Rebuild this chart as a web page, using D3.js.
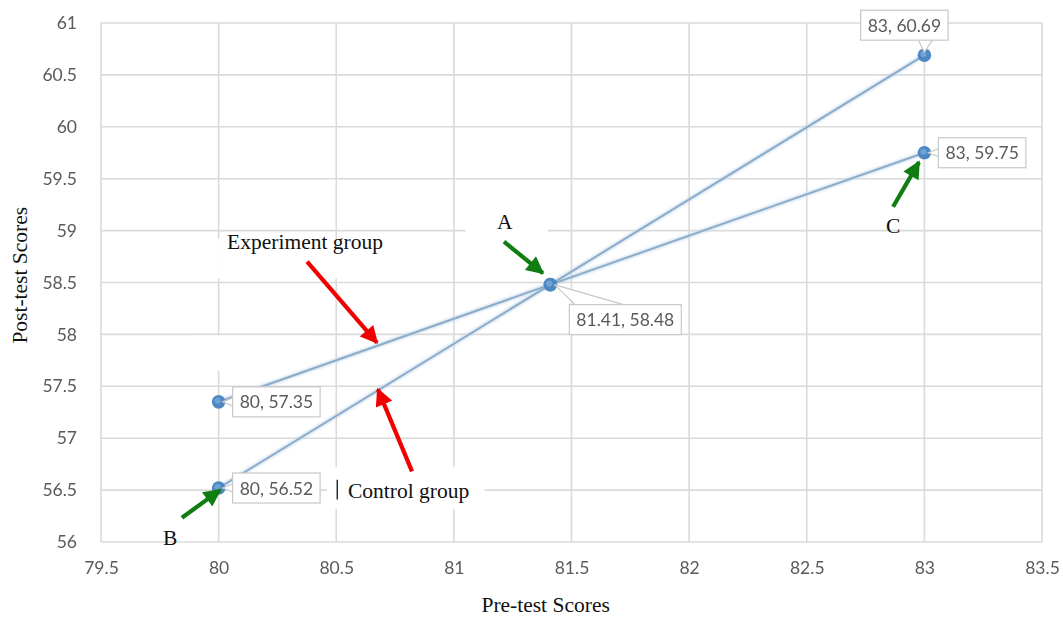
<!DOCTYPE html>
<html>
<head>
<meta charset="utf-8">
<script src="https://cdn.jsdelivr.net/npm/d3@7"></script>
<style>
  body { margin: 0; background: #fff; }
  svg { display: block; }
</style>
</head>
<body>
<svg id="chart" width="1063" height="617"></svg>
<script>
const xTicks = [79.5, 80, 80.5, 81, 81.5, 82, 82.5, 83, 83.5];
const yTicks = [56, 56.5, 57, 57.5, 58, 58.5, 59, 59.5, 60, 60.5, 61];
const preScores = [80, 81.41, 83];
const experimentScores = [57.35, 58.48, 59.75];
const controlScores = [56.52, 58.48, 60.69];
const seriesNames = ['Experiment group', 'Control group'];

const width = 1063, height = 617;
const margin = {top: 23, right: 21, bottom: 75, left: 101};

const svg = d3.select('#chart');
const x = d3.scaleLinear().domain([79.5, 83.5]).range([margin.left, width - margin.right]);
const y = d3.scaleLinear().domain([56, 61]).range([height - margin.bottom, margin.top]);

const defs = svg.append('defs');
defs.append('filter').attr('id', 'soft')
  .append('feGaussianBlur').attr('stdDeviation', 0.55);
defs.append('filter').attr('id', 'glow')
  .attr('x', '-50%').attr('y', '-50%').attr('width', '200%').attr('height', '200%')
  .append('feGaussianBlur').attr('stdDeviation', 1.2);

// arrow heads
[['red', '#f00000'], ['green', '#0f7d12']].forEach(([id, c]) => {
  defs.append('marker').attr('id', 'head-' + id)
    .attr('viewBox', '0 0 10 10').attr('refX', 9).attr('refY', 5)
    .attr('markerWidth', 4.6).attr('markerHeight', 4.2)
    .attr('markerUnits', 'strokeWidth').attr('orient', 'auto')
    .append('path').attr('d', 'M0,0 L10,5 L0,10 Z').attr('fill', c);
});

// grid
const grid = svg.append('g');
grid.selectAll('.gx').data(xTicks).enter().append('line')
  .attr('x1', d => x(d)).attr('x2', d => x(d))
  .attr('y1', y(61)).attr('y2', y(56))
  .attr('stroke', '#dadada').attr('stroke-width', 1.6);
grid.selectAll('.gy').data(yTicks).enter().append('line')
  .attr('x1', x(79.5)).attr('x2', x(83.5))
  .attr('y1', d => y(d)).attr('y2', d => y(d))
  .attr('stroke', '#dadada').attr('stroke-width', 1.6);

// axes (labels only)
const tickFont = 'Lato, "Open Sans", sans-serif';
const serif = '"Liberation Serif", serif';
const yAxis = svg.append('g').attr('transform', `translate(${x(79.5) - 21},0)`)
  .call(d3.axisLeft(y).tickValues(yTicks).tickSize(0).tickFormat(d3.format('')));
const xAxis = svg.append('g').attr('transform', `translate(0,${y(56) + 17})`)
  .call(d3.axisBottom(x).tickValues(xTicks).tickSize(0).tickFormat(d3.format('')));
[xAxis, yAxis].forEach(a => {
  a.select('.domain').remove();
  a.selectAll('text').attr('fill', '#5a5a5a').attr('font-size', 17.5)
    .attr('font-family', tickFont).attr('filter', 'url(#soft)');
});

// axis titles
svg.append('text').attr('x', x(81.39)).attr('y', 612)
  .attr('text-anchor', 'middle').attr('font-family', serif)
  .attr('font-size', 21.5).attr('fill', '#111').text('Pre-test Scores');
svg.append('text').attr('transform', `translate(27,${y(58.57)}) rotate(-90)`)
  .attr('text-anchor', 'middle').attr('font-family', serif)
  .attr('font-size', 21.5).attr('fill', '#111').text('Post-test Scores');

// white patches behind the pasted annotations
const patches = [
  [79.995, 58.92, 80.76, 58.54],
  [81.05, 59.10, 81.40, 58.75],
  [82.735, 58.97, 82.905, 58.60],
  [80.46, 56.72, 81.13, 56.32],
  [79.88, 57.99, 80.41, 57.65]
];
svg.append('g').selectAll('rect').data(patches).enter().append('rect')
  .attr('x', d => x(d[0])).attr('y', d => y(d[1]))
  .attr('width', d => x(d[2]) - x(d[0])).attr('height', d => y(d[3]) - y(d[1]))
  .attr('fill', '#fff');

// series
const series = [experimentScores, controlScores].map((vals, i) => ({
  name: seriesNames[i],
  points: preScores.map((p, j) => ({x: p, y: vals[j]}))
}));
const line = d3.line().x(d => x(d.x)).y(d => y(d.y));
const sg = svg.append('g');
sg.selectAll('.halo').data(series).enter().append('path')
  .attr('d', d => line(d.points)).attr('fill', 'none')
  .attr('stroke', '#c6d8ea').attr('stroke-width', 4.5).attr('opacity', 0.7)
  .attr('filter', 'url(#glow)');
sg.selectAll('.ln').data(series).enter().append('path')
  .attr('d', d => line(d.points)).attr('fill', 'none')
  .attr('stroke', '#8caccb').attr('stroke-width', 2);

// data label callouts
const labels = [
  {x: 83, y: 60.69, dx: -20, dy: -30, pos: 'above'},
  {x: 83, y: 59.75, pos: 'right'},
  {x: 81.41, y: 58.48, dx: 75, dy: 35, pos: 'below'},
  {x: 80, y: 57.35, pos: 'right'},
  {x: 80, y: 56.52, pos: 'right'}
];
const lg = svg.append('g');
labels.forEach(l => {
  const px = x(l.x), py = y(l.y);
  const txt = `${l.x}, ${l.y}`;
  const t = lg.append('text').attr('font-family', tickFont).attr('font-size', 17.5)
    .attr('fill', '#5a5a5a').attr('text-anchor', 'middle').text(txt);
  const w = t.node().getComputedTextLength() + 14, h = 30;
  let cx, cy, pointer;
  if (l.pos === 'above') {
    cx = px + l.dx; cy = py + l.dy;
    pointer = `M${cx + 14},${cy + h / 2} L${px},${py - 3} L${cx + 28},${cy + h / 2}`;
  } else if (l.pos === 'right') {
    cx = px + 14 + w / 2; cy = py;
    pointer = `M${cx - w / 2},${cy - 4} L${px + 4},${py} L${cx - w / 2},${cy + 4}`;
  } else {
    cx = px + l.dx; cy = py + l.dy;
    pointer = `M${cx - w / 2 + 6},${cy - h / 2} L${px + 4},${py} L${cx - w / 2 + 54},${cy - h / 2}`;
  }
  lg.insert('path', 'text').attr('d', pointer).attr('fill', '#fff')
    .attr('stroke', '#c8c8c8').attr('stroke-width', 1.2);
  lg.insert('rect', 'text').attr('x', cx - w / 2).attr('y', cy - h / 2)
    .attr('width', w).attr('height', h).attr('fill', '#fff')
    .attr('stroke', '#c8c8c8').attr('stroke-width', 1.2);
  t.attr('x', cx).attr('y', cy + 6.5).attr('filter', 'url(#soft)');
});

// markers
const allPts = series.flatMap(s => s.points);
sg.selectAll('.mk').data(allPts).enter().append('circle')
  .attr('cx', d => x(d.x)).attr('cy', d => y(d.y)).attr('r', 6.8)
  .attr('fill', '#4d88c4').attr('filter', 'url(#soft)');
sg.selectAll('.mk2').data(allPts).enter().append('circle')
  .attr('cx', d => x(d.x) - 1).attr('cy', d => y(d.y) - 1).attr('r', 3)
  .attr('fill', '#6fa2d6').attr('filter', 'url(#soft)');

// annotation arrows
const arrows = [
  {c: 'red', from: [80.376, 58.70], to: [80.673, 57.92]},
  {c: 'red', from: [80.822, 56.68], to: [80.677, 57.47]},
  {c: 'green', from: [81.213, 58.893], to: [81.378, 58.59]},
  {c: 'green', from: [79.844, 56.234], to: [80.006, 56.50]},
  {c: 'green', from: [82.867, 59.23], to: [82.977, 59.66]}
];
const colors = {red: '#f00000', green: '#0f7d12'};
svg.append('g').selectAll('line').data(arrows).enter().append('line')
  .attr('x1', d => x(d.from[0])).attr('y1', d => y(d.from[1]))
  .attr('x2', d => x(d.to[0])).attr('y2', d => y(d.to[1]))
  .attr('stroke', d => colors[d.c]).attr('stroke-width', 4.2)
  .attr('marker-end', d => `url(#head-${d.c})`);

// annotation texts
const notes = [
  {t: 'Experiment group', x: 80.036, y: 58.823},
  {t: 'Control group', x: 80.55, y: 56.424},
  {t: 'A', x: 81.183, y: 59.015},
  {t: 'B', x: 79.764, y: 55.97},
  {t: 'C', x: 82.837, y: 58.977}
];
svg.append('g').selectAll('text').data(notes).enter().append('text')
  .attr('x', d => x(d.x)).attr('y', d => y(d.y))
  .attr('font-family', serif).attr('font-size', 21.5)
  .attr('fill', '#111').text(d => d.t);
// the stray bar left of "Control group"
svg.append('line')
  .attr('x1', x(80.5) + 1).attr('x2', x(80.5) + 1)
  .attr('y1', y(56.6)).attr('y2', y(56.41))
  .attr('stroke', '#111').attr('stroke-width', 1.3);
</script>
</body>
</html>
